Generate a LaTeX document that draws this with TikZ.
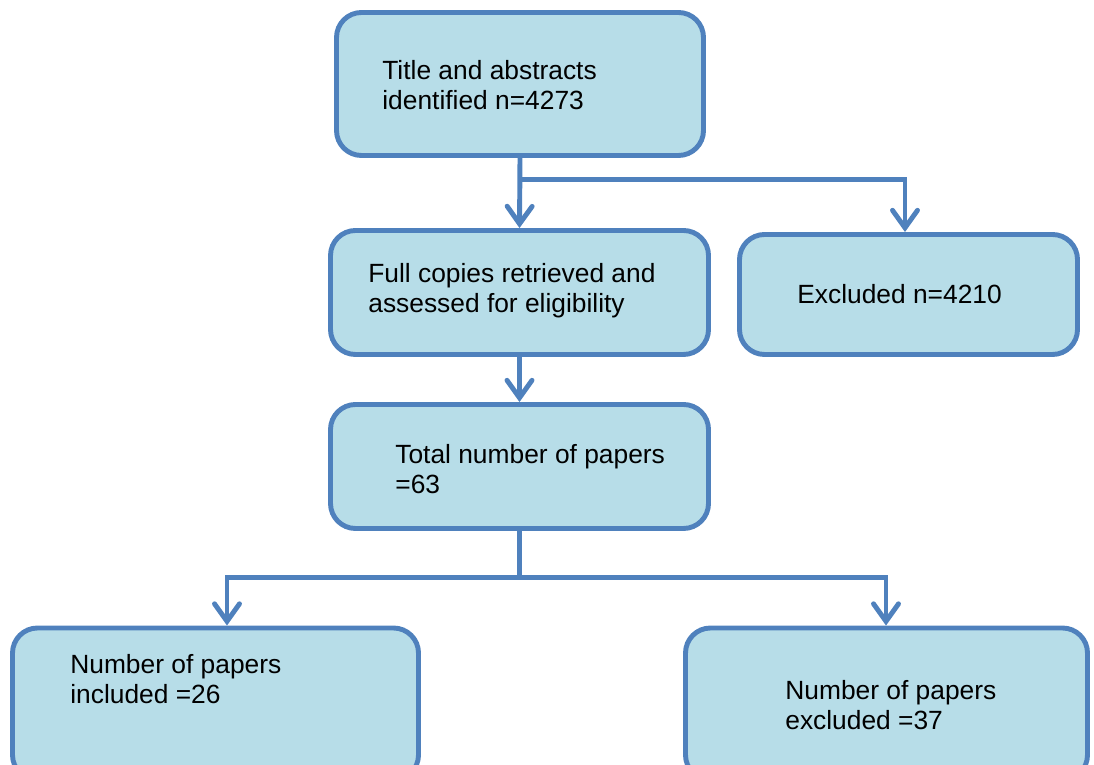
\documentclass[tikz,border=0pt]{standalone}
\usepackage{fontspec}
\setmainfont{Liberation Sans}
\usetikzlibrary{positioning,calc}
\usetikzlibrary{arrows.meta}
\definecolor{boxline}{HTML}{4F81BD}
\definecolor{boxfill}{HTML}{B7DDE8}
\tikzset{
   stagebox/.style={draw=boxline, fill=boxfill, line width=2.8pt,
      rounded corners=0.5cm, inner sep=0pt},
   stagetext/.style={anchor=west, align=left, inner sep=0pt,
      font=\fontsize{15}{17}\selectfont},
   flowline/.style={draw=boxline, line width=2.8pt},
   flowarrow/.style={flowline,
      -{Straight Barb[length=3.5mm,width=5mm,line cap=round]}}
}

\begin{document}
\begin{tikzpicture}
   \useasboundingbox (0,0) rectangle (21.88,15.3);

   % boxes
   \node[stagebox, minimum width=7.34cm, minimum height=2.86cm] (b1) at (10.4,13.62) {};
   \node[stagebox, minimum width=7.56cm, minimum height=2.48cm] (b2) at (10.39,9.45) {};
   \node[stagebox, minimum width=6.76cm, minimum height=2.40cm] (b3) at (18.17,9.41) {};
   \node[stagebox, minimum width=7.56cm, minimum height=2.48cm] (b4) at (10.39,5.97) {};
   \node[stagebox, minimum width=8.12cm, minimum height=3.04cm] (b5) at (4.31,1.22) {};
   \node[stagebox, minimum width=8.04cm, minimum height=3.04cm] (b6) at (17.73,1.22) {};

   % texts
   \node[stagetext] (t1) at (7.64,13.6)  {Title and abstracts\\identified n=4273};
   \node[stagetext] (t2) at (7.36,9.48)  {Full copies retrieved and\\assessed for eligibility};
   \node[stagetext] (t3) at (15.94,9.42) {Excluded n=4210};
   \node[stagetext] (t4) at (7.9,5.91)   {Total number of papers\\=63};
   \node[stagetext] (t5) at (1.4,1.72)   {Number of papers\\included =26};
   \node[stagetext] (t6) at (15.7,1.2)   {Number of papers\\excluded =37};

   % junctions
   \coordinate (j1) at ($(b1.south)+(0,-0.44)$);
   \coordinate (j2) at ($(b4.south)+(0,-0.94)$);

   % first split
   \draw[flowarrow] (b1.south) -- (b2.north);
   \draw[flowarrow] (j1) -| ($(b3.north)+(-0.07,0)$);

   \draw[flowarrow] (b2.south) -- (b4.north);

   % second split
   \draw[flowline] (b4.south) -- (j2);
   \draw[flowarrow] (j2) -| ($(b5.north)+(0.23,0)$);
   \draw[flowarrow] (j2) -| ($(b6.north)+(-0.01,0)$);
\end{tikzpicture}
\end{document}
